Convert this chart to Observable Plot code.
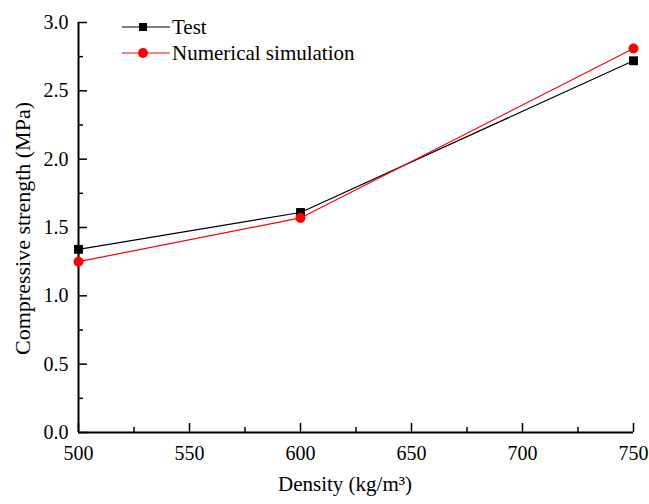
<!DOCTYPE html>
<html>
<head>
<meta charset="utf-8">
<script src="https://cdn.jsdelivr.net/npm/d3@7"></script>
<script src="https://cdn.jsdelivr.net/npm/@observablehq/plot@0.6"></script>
<style>
  html, body { margin: 0; padding: 0; background: #fff; }
  #wrap { position: relative; width: 649px; height: 504px; font-family: 'Liberation Serif', 'Times New Roman', serif; }
  #wrap svg text { font-family: 'Liberation Serif', 'Times New Roman', serif; }
  #legend { position: absolute; left: 122px; top: 14px; font-size: 21px; color: #000; }
  #legend .row { display: flex; align-items: center; height: 26px; }
  #legend svg { margin-right: 2px; }
</style>
</head>
<body>
<div id="wrap"></div>
<script>
const density = [500, 600, 750];
const testValues = [1.34, 1.61, 2.72];
const simValues = [1.25, 1.57, 2.81];
const xMajorTicks = [500, 550, 600, 650, 700, 750];
const xMinorTicks = [525, 575, 625, 675, 725];
const yMajorTicks = [0, 0.5, 1.0, 1.5, 2.0, 2.5, 3.0];
const yMinorTicks = [0.25, 0.75, 1.25, 1.75, 2.25, 2.75];
const seriesNames = ["Test", "Numerical simulation"];
const seriesColors = ["#000000", "#ff0000"];

const testData = density.map((d, i) => ({x: d, y: testValues[i]}));
const simData = density.map((d, i) => ({x: d, y: simValues[i]}));

const font = "'Liberation Serif', 'Times New Roman', serif";

const chart = Plot.plot({
  width: 649,
  height: 504,
  marginLeft: 78,
  marginRight: 16,
  marginTop: 22,
  marginBottom: 72,
  style: {fontFamily: font, fontSize: "20px", color: "#000", background: "#fff"},
  x: {domain: [500, 750]},
  y: {domain: [0, 3]},
  marks: [
    Plot.axisX(xMinorTicks, {tickSize: -5, tickFormat: null, text: null, label: null, strokeWidth: 1.5}),
    Plot.axisX(xMajorTicks, {tickSize: -9, tickPadding: 22, tickFormat: d => String(d), label: null, strokeWidth: 1.5, fontSize: 20, fill: "#000"}),
    Plot.axisY(yMinorTicks, {tickSize: -5, tickFormat: null, text: null, label: null, strokeWidth: 1.5}),
    Plot.axisY(yMajorTicks, {tickSize: -9, tickPadding: 19, tickFormat: d => d.toFixed(1), label: null, strokeWidth: 1.5, fontSize: 20, fill: "#000"}),
    Plot.ruleX([500], {stroke: "#000", strokeWidth: 2}),
    Plot.ruleY([0], {stroke: "#000", strokeWidth: 2}),
    Plot.line(testData, {x: "x", y: "y", stroke: seriesColors[0], strokeWidth: 1.2}),
    Plot.line(simData, {x: "x", y: "y", stroke: seriesColors[1], strokeWidth: 1.2}),
    Plot.dot(testData, {x: "x", y: "y", symbol: "square", r: 5, fill: seriesColors[0], stroke: null}),
    Plot.dot(simData, {x: "x", y: "y", symbol: "circle", r: 5, fill: seriesColors[1], stroke: null}),
    Plot.text(["Density (kg/m³)"], {frameAnchor: "bottom", dx: -11, dy: 58, fontSize: 21, fill: "#000"}),
    Plot.text(["Compressive strength (MPa)"], {frameAnchor: "left", textAnchor: "middle", dx: -56, dy: 1, rotate: -90, fontSize: 22, fill: "#000"})
  ]
});

const wrap = document.getElementById("wrap");
wrap.appendChild(chart);

const legend = document.createElement("div");
legend.id = "legend";
seriesNames.forEach((name, i) => {
  const row = document.createElement("div");
  row.className = "row";
  const sym = i === 0
    ? `<rect x="17" y="5" width="8" height="8" fill="${seriesColors[i]}"/>`
    : `<circle cx="21" cy="9" r="5" fill="${seriesColors[i]}"/>`;
  row.innerHTML = `<svg width="48" height="18"><line x1="0" x2="48" y1="9" y2="9" stroke="${seriesColors[i]}" stroke-width="1.2"/>${sym}</svg><span>${name}</span>`;
  legend.appendChild(row);
});
wrap.appendChild(legend);
</script>
</body>
</html>
